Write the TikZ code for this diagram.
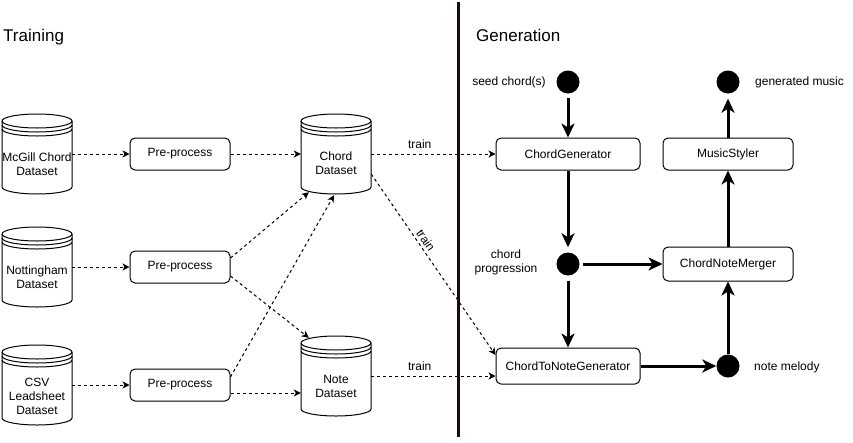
\documentclass[tikz,border=0pt]{standalone}
\usepackage{fontspec}
\setmainfont{Liberation Sans}
\usetikzlibrary{arrows.meta,calc}
\definecolor{divcol}{RGB}{30,10,10}
\newcommand\dstore[5]{%
  \node[dsbody] (#1) at ({#2+35},{#3+40}) {};
  \filldraw[dsline,fill=white] (#2,{#3+7}) -- (#2,{#3+73})
    arc[start angle=180,end angle=360,x radius=35pt,y radius=7pt]
    -- ({#2+70},{#3+7})
    arc[start angle=0,end angle=180,x radius=35pt,y radius=7pt] -- cycle;
  \draw[dsline] (#2,{#3+7}) arc[start angle=180,end angle=360,x radius=35pt,y radius=7pt];
  \draw[dsline] (#2,{#3+11}) arc[start angle=180,end angle=360,x radius=35pt,y radius=7pt];
  \draw[dsline] (#2,{#3+15}) arc[start angle=180,end angle=360,x radius=35pt,y radius=7pt];
  \node[txt] (#1-t) at ({#2+35},{#3+40+#5}) {#4};
}
\begin{document}
\begin{tikzpicture}[x=1pt,y=-1pt,
  txt/.style={font=\fontsize{12}{14}\selectfont, text=black, inner sep=0pt, align=center},
  ttl/.style={font=\fontsize{17}{20}\selectfont, text=black, inner sep=0pt, anchor=base west},
  proc/.style={draw=black, line width=1pt, rounded corners=5pt, fill=white, minimum height=32pt, inner sep=0pt, font=\fontsize{12}{14}\selectfont},
  dot/.style={circle, fill=black, minimum size=23pt, inner sep=0pt},
  flow/.style={line width=3pt, -{Stealth[length=14pt,width=13pt,inset=4pt]}},
  dataflow/.style={line width=1pt, dash pattern=on 3pt off 3pt, -{Stealth[length=7pt,width=7pt,inset=2pt]}},
  dsbody/.style={minimum width=70pt, minimum height=80pt, inner sep=0pt},
  dsline/.style={line width=1pt},
]
\useasboundingbox (0,0) rectangle (853,442);

% titles
\node[ttl] (ttrain) at (3,41.5) {Training};
\node[ttl] (tgen) at (476,41.5) {Generation};

% datasets
\dstore{mcgill}{2}{114}{McGill Chord\\Dataset}{10}
\dstore{nott}{2}{227}{Nottingham\\Dataset}{10}
\dstore{csv}{2}{345}{CSV\\Leadsheet\\Dataset}{11}
\dstore{chordds}{301}{114}{Chord\\Dataset}{9}
\dstore{noteds}{301}{336}{Note\\Dataset}{10}

% pre-process
\node[proc, minimum width=100pt] (pp1) at (180,154) {Pre-process};
\node[proc, minimum width=100pt] (pp2) at (180,267) {Pre-process};
\node[proc, minimum width=100pt] (pp3) at (180,385) {Pre-process};

% generation nodes
\node[dot] (seed) at (568,82) {};
\node[dot] (gm) at (728,82) {};
\node[proc, minimum width=144pt] (cg) at (568,154) {ChordGenerator};
\node[proc, minimum width=130pt] (msty) at (728,154) {MusicStyler};
\node[dot] (cp) at (568,264) {};
\node[proc, minimum width=130pt, minimum height=34pt] (cnm) at (728,264) {ChordNoteMerger};
\node[proc, minimum width=144pt, minimum height=36pt] (ctng) at (568,366) {ChordToNoteGenerator};
\node[dot] (nm) at (728,366) {};

\node[txt] (lseed) at (509,82) {seed chord(s)};
\node[txt, anchor=west] (lgm) at (755,82) {generated music};
\node[txt] (lcp) at (506,262) {chord\\progression};
\node[txt, anchor=west] (lnm) at (754,367) {note melody};

% training connectors
\draw[dataflow] (mcgill.east) -- (pp1.west);
\draw[dataflow] (pp1.east) -- (chordds.west);
\draw[dataflow] (nott.east) -- (pp2.west);
\draw[dataflow] (csv.east) -- (pp3.west);
\coordinate (pp2a) at ($(pp2.east)+(0,-9)$);
\coordinate (pp2b) at ($(pp2.east)+(0,9)$);
\coordinate (pp3a) at ($(pp3.east)+(0,-8)$);
\coordinate (pp3b) at ($(pp3.east)+(0,8)$);
\coordinate (cdin1) at ($(chordds.south west)+(8,-2)$);
\coordinate (cdin2) at ($(chordds.south)+(-2,1)$);
\coordinate (ndin1) at ($(noteds.north west)+(8,2)$);
\draw[dataflow] (pp2a) -- (cdin1);
\draw[dataflow] (pp3a) -- (cdin2);
\draw[dataflow] (pp2b) -- (ndin1);
\draw[dataflow] (pp3b) -- (noteds.west |- pp3b);

% train connectors
\draw[dataflow] (chordds.east) -- node[txt, pos=0.39, above, inner sep=4.5pt] (ltr1) {train} (cg.west);
\draw[dataflow] (noteds.east) -- node[txt, pos=0.39, above, inner sep=4.5pt] (ltr3) {train} (ctng.west |- noteds.east);
\coordinate (cdout) at ($(chordds.east)+(0,20)$);
\coordinate (ctin) at ($(ctng.west)+(0,-11)$);
\draw[dataflow] (cdout) -- node[txt, sloped, pos=0.39, above, inner sep=2.6pt] (ltr2) {train} (ctin);

% divider
\coordinate (dtop) at (458,2);
\coordinate (dbot) at (458,437);
\draw[line width=3pt, divcol] (dtop) -- (dbot);

% generation flow
\draw[flow, shorten <=4pt] (seed) -- (cg.north);
\draw[flow, shorten >=5pt] (cg.south) -- (cp);
\draw[flow, shorten <=3pt] (cp) -- (cnm.west);
\draw[flow, shorten <=5pt] (cp) -- (ctng.north);
\draw[flow] (ctng.east) -- (nm);
\draw[flow] (nm) -- (cnm.south);
\draw[flow] (cnm.north) -- (msty.south);
\draw[flow, shorten >=5pt] (msty.north) -- (gm);
\end{tikzpicture}
\end{document}
